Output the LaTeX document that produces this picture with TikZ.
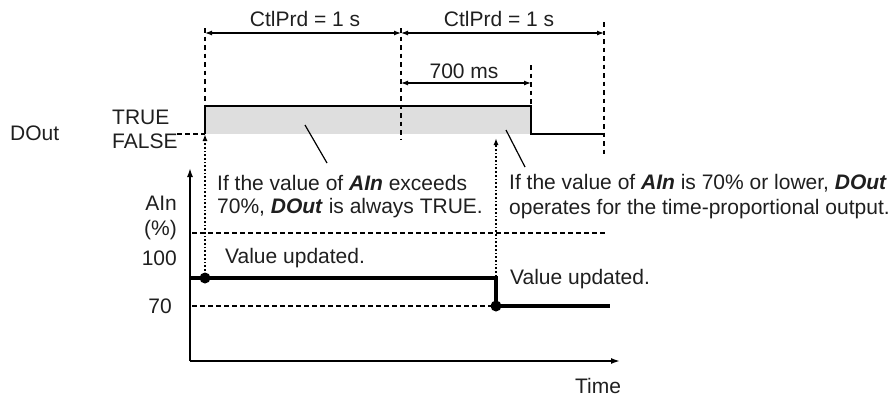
\documentclass[tikz,border=0pt]{standalone}
\usepackage{fontspec}
\setmainfont{Liberation Sans}
\usetikzlibrary{arrows.meta}
\tikzset{
  lbl/.style={inner sep=0pt, font=\fontsize{21}{25}\selectfont, text=black!88},
  dsh/.style={line width=1.4pt, dash pattern=on 4.5pt off 4pt},
  hdsh/.style={line width=1.1pt, dash pattern=on 4.5pt off 3.5pt},
  dot/.style={line width=1.7pt, dash pattern=on 1.7pt off 2pt},
  dim/.style={line width=1.2pt, {Latex[length=7pt,width=5pt]}-{Latex[length=7pt,width=5pt]}},
  sig/.style={line width=1.8pt},
  thick sig/.style={line width=4pt},
  axis/.style={line width=1.6pt, -{Latex[length=9pt,width=6pt]}},
}
\begin{document}
\begin{tikzpicture}[x=1pt,y=-1pt]
\useasboundingbox (0,0) rectangle (896,397);
% coordinates
\coordinate (t0) at (205,106);
\coordinate (f0) at (205,134);
\coordinate (t1) at (531,106);
\coordinate (f1) at (531,134);
\coordinate (f2) at (604,134);
% gray fill
\fill[black!13] (t0) rectangle (f1);
% DOut signal
\draw[sig] (f0) -- (t0) -- (t1) -- (f1) -- (f2);
% vertical dashed guides
\draw[dsh] (205,28) -- (t0);
\draw[dsh] (401,28) -- (401,140);
\draw[dsh] (604,22) -- (604,155);
\draw[dsh] (531,65) -- (t1);
\draw[hdsh] (177,134) -- (f0);
% dimension arrows
\draw[dim] (205,33) -- (401,33);
\draw[dim] (401,33) -- (604,33);
\draw[dim] (401,83) -- (531,83);
\node[lbl] (c1) at (305,19) {CtlPrd = 1 s};
\node[lbl] (c2) at (499,19) {CtlPrd = 1 s};
\node[lbl] (ms) at (464,71) {700 ms};
% labels
\node[lbl, anchor=west] (dout) at (10,133) {DOut};
\node[lbl, anchor=west] (tru) at (112,117) {TRUE};
\node[lbl, anchor=west] (fal) at (112,141) {FALSE};
% pointers
\draw[line width=1.2pt] (305,125) -- (327,163);
\draw[line width=1.2pt] (506,130) -- (525,167);
% explanation texts
\node[lbl, anchor=west] (e1a) at (217,183) {If the value of \textbf{\textit{AIn}} exceeds};
\node[lbl, anchor=west] (e1b) at (217,208) {70\%, \textbf{\textit{DOut}} is always TRUE.};
\node[lbl, anchor=west] (e2a) at (509,183) {If the value of \textbf{\textit{AIn}} is 70\% or lower, \textbf{\textit{DOut}}};
\node[lbl, anchor=west] (e2b) at (509,209) {operates for the time-proportional output.};
% AIn axes
\coordinate (o) at (190,361);
\draw[axis] (o) -- (190,168);
\draw[axis] (o) -- (620,361);
\node[lbl, anchor=east] (ain) at (177,203) {AIn};
\node[lbl, anchor=east] (pct) at (177,230) {(\%)};
\node[lbl, anchor=east] (h100) at (177,258) {100};
\node[lbl, anchor=east] (h70) at (172,306) {70};
\node[lbl] (time) at (598,386) {Time};
% reference dashed lines
\draw[hdsh] (192,233) -- (608,233);
\draw[hdsh] (192,306) -- (496,306);
% AIn signal
\coordinate (d1) at (205,278);
\coordinate (d2) at (496,306);
\draw[thick sig] (190,278) -- (496,278) -- (d2) -- (610,306);
\fill (d1) circle (5.5pt);
\fill (d2) circle (5.5pt);
\node[lbl, anchor=west] (v1) at (225,258) {Value updated.};
\node[lbl, anchor=west] (v2) at (510,279) {Value updated.};
% dotted arrows
\draw[dot, -{Latex[length=7pt,width=5pt]}] (d1) -- (f0);
\draw[dot, -{Latex[length=7pt,width=5pt]}] (d2) -- (496,138);
\end{tikzpicture}
\end{document}
